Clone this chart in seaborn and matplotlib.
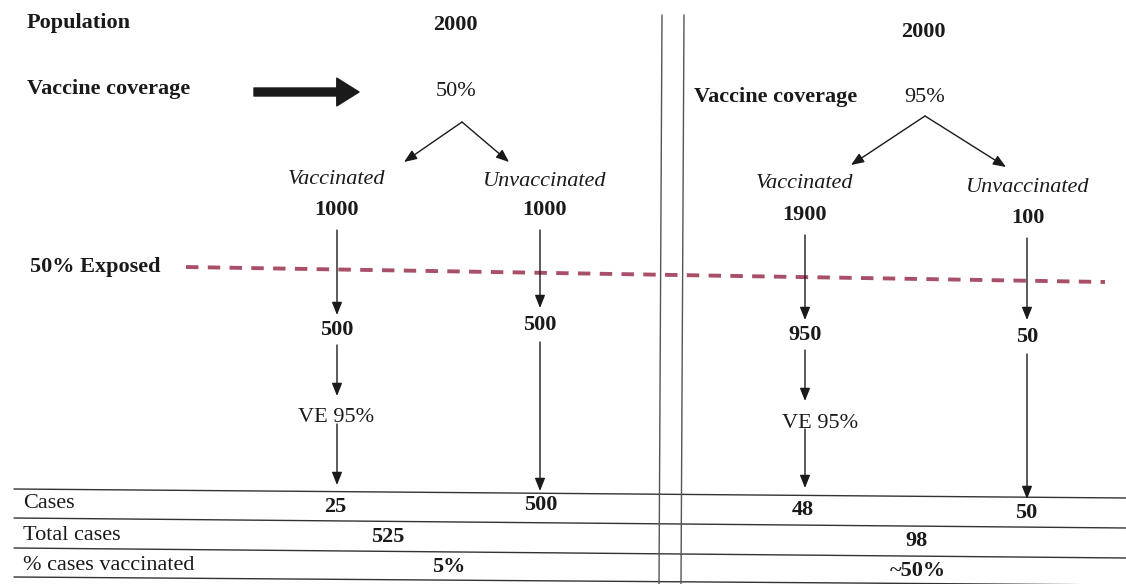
import matplotlib.pyplot as plt
import seaborn as sns
import pandas as pd

# Values: left panel = 50% coverage, right panel = 95% coverage
population = [2000, 2000]
coverage = ['50%', '95%']
vaccinated = [1000, 1900]
unvaccinated = [1000, 100]
exposed_vacc = [500, 950]
exposed_unvacc = [500, 50]
vacc_eff = ['VE 95%', 'VE 95%']
cases_vacc = [25, 48]
cases_unvacc = [500, 50]
total_cases = [525, 98]
pct_cases_vacc = ['5%', '~50%']
row_labels = ['Cases', 'Total cases', '% cases vaccinated']

# layout of each panel in pixel coordinates (y grows downwards)
panels = [
    dict(pop=(455, 25), cov=(456, 92), apex=(462, 122), split=((404, 162), (509, 162)),
         vx=337, ux=540, vlab=(337, 180), ulab=(545, 181), vnum=(337, 210), unum=(544, 210),
         vexp=330, uexp=325, ve=(336, 418), cases=((335, 507), (541, 505)),
         total=(388, 537), pct=(449, 567)),
    dict(pop=(923, 32), cov=(925, 97), apex=(925, 116), split=((851, 165), (1006, 167)),
         vx=805, ux=1027, vlab=(805, 184), ulab=(1028, 187), vnum=(805, 215), unum=(1028, 218),
         vexp=335, uexp=337, ve=(820, 423), cases=((803, 510), (1026, 513)),
         total=(917, 541), pct=(918, 571)),
]

sns.set_theme(style='white')
plt.rcParams['font.family'] = ['Liberation Serif', 'DejaVu Serif']

fig = plt.figure(figsize=(11.26, 5.84), dpi=100)
ax = fig.add_axes([0, 0, 1, 1])

FS = 16
ink = '#1a1a1a'


def arrow(x0, y0, x1, y1):
    ax.annotate('', xy=(x1, y1), xytext=(x0, y0),
                arrowprops=dict(arrowstyle='-|>,head_length=0.55,head_width=0.22',
                                color=ink, lw=1.0, mutation_scale=14,
                                shrinkA=0, shrinkB=0))


def label(x, y, s, ha='center', **kw):
    ax.text(x, y, str(s), ha=ha, va='center', fontsize=FS, color=ink, **kw)


# headings on the left
label(27, 23, 'Population', ha='left', weight='bold')
label(27, 89, 'Vaccine coverage', ha='left', weight='bold')
label(694, 97, 'Vaccine coverage', ha='left', weight='bold')
label(30, 267, '50% Exposed', ha='left', weight='bold')

# big arrow pointing at the coverage
ax.annotate('', xy=(359, 92), xytext=(254, 92),
            arrowprops=dict(arrowstyle='simple,head_length=1.0,head_width=1.25,tail_width=0.36',
                            color=ink, mutation_scale=16, shrinkA=0, shrinkB=0))

# exposure threshold (dashed)
exposed = pd.DataFrame({'x': [186, 1105], 'y': [267, 282]})
sns.lineplot(data=exposed, x='x', y='y', ax=ax, color='#a85068', lw=2.8,
             linestyle=(0, (3.2, 2.4)))

# table rules and the double divider
rules = [(489, 498), (518, 528), (548, 558), (577, 585)]
for y0, y1 in rules:
    ax.plot([14, 1126], [y0, y1], color='#333333', lw=1.0)
for xt, xb in [(662, 659), (684, 681)]:
    ax.plot([xt, xb], [15, 584], color='#555555', lw=1.0)

for y, s in zip([503, 535, 565], row_labels):
    label(23, y, s, ha='left')

for i, p in enumerate(panels):
    label(*p['pop'], population[i], weight='bold')
    label(*p['cov'], coverage[i])
    for tip in p['split']:
        arrow(*p['apex'], *tip)
    label(*p['vlab'], 'Vaccinated', style='italic')
    label(*p['ulab'], 'Unvaccinated', style='italic')
    label(*p['vnum'], vaccinated[i], weight='bold')
    label(*p['unum'], unvaccinated[i], weight='bold')

    vx, ux = p['vx'], p['ux']
    arrow(vx, p['vnum'][1] + 20, vx, p['vexp'] - 15)
    arrow(ux, p['unum'][1] + 20, ux, p['uexp'] - 17)
    label(vx, p['vexp'], exposed_vacc[i], weight='bold')
    label(ux, p['uexp'], exposed_unvacc[i], weight='bold')

    arrow(vx, p['vexp'] + 15, vx, p['ve'][1] - 22)
    label(*p['ve'], vacc_eff[i])
    arrow(vx, p['ve'][1] + 6, vx, p['cases'][0][1] - 22)
    arrow(ux, p['uexp'] + 17, ux, p['cases'][1][1] - 14)

    label(*p['cases'][0], cases_vacc[i], weight='bold')
    label(*p['cases'][1], cases_unvacc[i], weight='bold')
    label(*p['total'], total_cases[i], weight='bold')
    label(*p['pct'], pct_cases_vacc[i], weight='bold')

ax.set_xlim(0, 1126)
ax.set_ylim(584, 0)
ax.axis('off')
fig.savefig('out.png', dpi=100, facecolor='white')
